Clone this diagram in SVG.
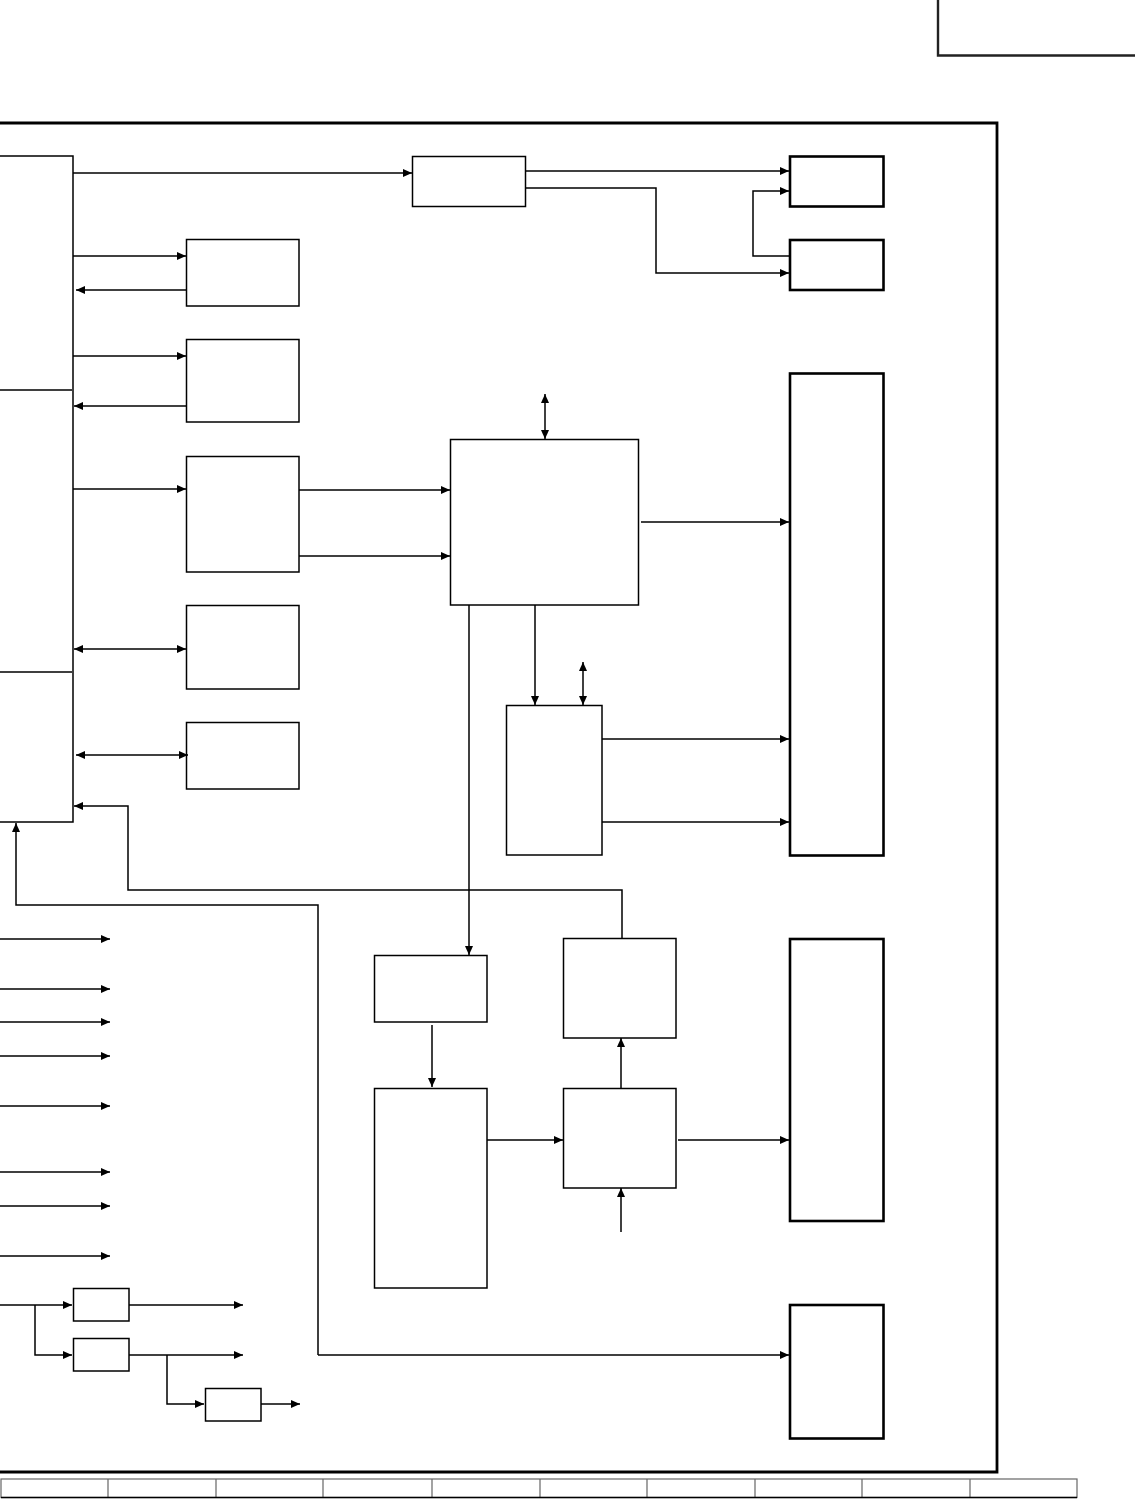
<svg xmlns="http://www.w3.org/2000/svg" width="1135" height="1499" viewBox="0 0 1135 1499">
<style>
.bx{fill:#fff;stroke:#000;stroke-width:1.5}
.tk{fill:#fff;stroke:#000;stroke-width:2.6}
.ln{fill:none;stroke:#000;stroke-width:1.5}
.ar{fill:none;stroke:#000;stroke-width:1.5;marker-end:url(#ah)}
.da{fill:none;stroke:#000;stroke-width:1.5;marker-end:url(#ah);marker-start:url(#ah)}
.tb{fill:none;stroke:#666;stroke-width:1.2}
</style>
<defs>
<marker id="ah" markerUnits="userSpaceOnUse" markerWidth="10" markerHeight="9" refX="9" refY="4" orient="auto-start-reverse">
<path d="M0,0 L9,4 L0,8 z" fill="#000"/>
</marker>
</defs>
<rect width="1135" height="1499" fill="#fff"/>
<g id="frame">
<path d="M0,123 H997 V1472 H0" fill="none" stroke="#000" stroke-width="2.8"/>
<path d="M938,0 V55.5 H1135" fill="none" stroke="#222" stroke-width="2.4"/>
<rect x="1" y="1479" width="1076" height="18.5" class="tb"/>
<path class="tb" d="M108,1479 V1497.5 M216,1479 V1497.5 M323,1479 V1497.5 M432,1479 V1497.5 M540,1479 V1497.5 M647,1479 V1497.5 M755,1479 V1497.5 M862,1479 V1497.5 M970,1479 V1497.5"/>
<path d="M1,1497.5 H1077" stroke="#000" stroke-width="1.4"/>
</g>
<g id="bus">
<path class="ln" d="M0,156 H73 V822 H0 M0,390 H72 M0,672 H72"/>
</g>
<g id="nodeA"><rect class="bx" x="186.5" y="239.5" width="112.5" height="66.5"/></g>
<g id="nodeB"><rect class="bx" x="186.5" y="339.5" width="112.5" height="82.5"/></g>
<g id="nodeC"><rect class="bx" x="186.5" y="456.5" width="112.5" height="115.5"/></g>
<g id="nodeD"><rect class="bx" x="186.5" y="605.5" width="112.5" height="83.5"/></g>
<g id="nodeE"><rect class="bx" x="186.5" y="722.5" width="112.5" height="66.5"/></g>
<g id="nodeG"><rect class="bx" x="412.5" y="156.5" width="113" height="50"/></g>
<g id="nodeH"><rect class="tk" x="790" y="156.5" width="93.5" height="50"/></g>
<g id="nodeI"><rect class="tk" x="790" y="240" width="93.5" height="50"/></g>
<g id="nodeM"><rect class="bx" x="450.5" y="439.5" width="188" height="165.5"/></g>
<g id="nodeJ"><rect class="tk" x="790" y="373.5" width="93.5" height="482"/></g>
<g id="nodeN"><rect class="bx" x="506.5" y="705.5" width="95.5" height="149.5"/></g>
<g id="nodeP"><rect class="bx" x="374.5" y="955.5" width="112.5" height="66.5"/></g>
<g id="nodeQ"><rect class="bx" x="374.5" y="1088.5" width="112.5" height="199.5"/></g>
<g id="nodeS"><rect class="bx" x="563.5" y="938.5" width="112.5" height="99.5"/></g>
<g id="nodeR"><rect class="bx" x="563.5" y="1088.5" width="112.5" height="99.5"/></g>
<g id="nodeK"><rect class="tk" x="790" y="939" width="93.5" height="282"/></g>
<g id="nodeL"><rect class="tk" x="790" y="1305" width="93.5" height="133.5"/></g>
<g id="nodeF1"><rect class="bx" x="73.5" y="1288.5" width="55.5" height="32.5"/></g>
<g id="nodeF2"><rect class="bx" x="73.5" y="1338.5" width="55.5" height="32.5"/></g>
<g id="nodeF3"><rect class="bx" x="205.5" y="1388.5" width="55.5" height="32.5"/></g>
<g id="connectors">
<path class="ar" d="M73,173 H412"/>
<path class="ar" d="M73,256 H186"/>
<path class="ar" d="M186,290 H76"/>
<path class="ar" d="M73,356 H186"/>
<path class="ar" d="M186,406 H74"/>
<path class="ar" d="M73,489 H186"/>
<path class="da" d="M74,649 H186"/>
<path class="da" d="M76,755 H188"/>
<path class="ar" d="M622,938 V890 H128 V806 H74"/>
<path class="ar" d="M318,1355 V905 H16 V823"/>
<path class="ar" d="M318,1355 H789"/>
<path class="ar" d="M526,171 H789"/>
<path class="ar" d="M526,188 H656 V273 H789"/>
<path class="ar" d="M790,256 H753 V191 H789"/>
<path class="ar" d="M299,490 H450"/>
<path class="ar" d="M299,556 H450"/>
<path class="da" d="M545,394 V439"/>
<path class="ar" d="M641,522 H789"/>
<path class="ar" d="M535,605 V705"/>
<path class="da" d="M583,662 V705"/>
<path class="ar" d="M602,739 H789"/>
<path class="ar" d="M602,822 H789"/>
<path class="ar" d="M469,605 V955"/>
<path class="ar" d="M432,1025 V1087"/>
<path class="ar" d="M487,1140 H563"/>
<path class="ar" d="M621,1088 V1038"/>
<path class="ar" d="M621,1232 V1188"/>
<path class="ar" d="M678,1140 H789"/>
<path class="ar" d="M0,939 H110"/>
<path class="ar" d="M0,989 H110"/>
<path class="ar" d="M0,1022 H110"/>
<path class="ar" d="M0,1056 H110"/>
<path class="ar" d="M0,1106 H110"/>
<path class="ar" d="M0,1172 H110"/>
<path class="ar" d="M0,1206 H110"/>
<path class="ar" d="M0,1256 H110"/>
<path class="ar" d="M0,1305 H72"/>
<path class="ar" d="M35,1305 V1355 H72"/>
<path class="ar" d="M129,1305 H243"/>
<path class="ar" d="M129,1355 H243"/>
<path class="ar" d="M167,1355 V1404 H204"/>
<path class="ar" d="M261,1404 H300"/>
</g>
</svg>
